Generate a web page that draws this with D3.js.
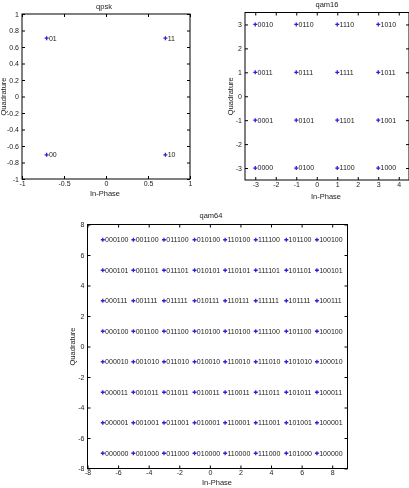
<!DOCTYPE html>
<html>
<head>
<meta charset="utf-8">
<script src="https://cdn.jsdelivr.net/npm/d3@7"></script>
<style>
  body { margin: 0; background: #fff; }
  svg { display: block; font-family: "Liberation Sans", Arial, sans-serif; will-change: transform; }
</style>
</head>
<body>
<svg id="chart" width="409" height="488"></svg>
<script>
//// data
var qpskI = [-0.7071, 0.7071, -0.7071, 0.7071];
var qpskQ = [0.7071, 0.7071, -0.7071, -0.7071];
var qpskLabels = ["01", "11", "00", "10"];

var qam16Levels = [-3, -1, 1, 3];
var qam16Rows = [3, 1, -1, -3];
var qam16Labels = [
  ["0010", "0110", "1110", "1010"],
  ["0011", "0111", "1111", "1011"],
  ["0001", "0101", "1101", "1001"],
  ["0000", "0100", "1100", "1000"]
];

var qam64Levels = [-7, -5, -3, -1, 1, 3, 5, 7];
var qam64Rows = [7, 5, 3, 1, -1, -3, -5, -7];
var qam64Labels = [
  ["000100", "001100", "011100", "010100", "110100", "111100", "101100", "100100"],
  ["000101", "001101", "011101", "010101", "110101", "111101", "101101", "100101"],
  ["000111", "001111", "011111", "010111", "110111", "111111", "101111", "100111"],
  ["000100", "001100", "011100", "010100", "110100", "111100", "101100", "100100"],
  ["000010", "001010", "011010", "010010", "110010", "111010", "101010", "100010"],
  ["000011", "001011", "011011", "010011", "110011", "111011", "101011", "100011"],
  ["000001", "001001", "011001", "010001", "110001", "111001", "101001", "100001"],
  ["000000", "001000", "011000", "010000", "110000", "111000", "101000", "100000"]
];

var qpskXTicks = [-1, -0.5, 0, 0.5, 1];
var qpskYTicks = [-1, -0.8, -0.6, -0.4, -0.2, 0, 0.2, 0.4, 0.6, 0.8, 1];
var qam16XTicks = [-3, -2, -1, 0, 1, 2, 3, 4];
var qam16YTicks = [-3, -2, -1, 0, 1, 2, 3];
var qam64Ticks = [-8, -6, -4, -2, 0, 2, 4, 6, 8];

// flatten grid data into points
function gridPoints(cols, rows, labels) {
  var pts = [];
  rows.forEach(function(q, r) {
    cols.forEach(function(i, c) {
      pts.push({i: i, q: q, label: labels[r][c]});
    });
  });
  return pts;
}

var svg = d3.select("svg#chart");
var fmt = function(d) { return String(+d.toFixed(2)); };

function drawPanel(p) {
  var x = d3.scaleLinear().domain(p.xDomain).range([p.left, p.right]);
  var y = d3.scaleLinear().domain(p.yDomain).range([p.bottom, p.top]);
  var g = svg.append("g");

  g.append("rect")
    .attr("x", p.left).attr("y", p.top)
    .attr("width", p.right - p.left).attr("height", p.bottom - p.top)
    .attr("fill", "#fff").attr("stroke", "#000").attr("stroke-width", 1);

  var bottom = g.append("g").attr("transform", "translate(0," + p.bottom + ")")
    .call(d3.axisBottom(x).tickValues(p.xTicks).tickFormat(fmt).tickSize(-3).tickPadding(2));
  var left = g.append("g").attr("transform", "translate(" + p.left + ",0)")
    .call(d3.axisLeft(y).tickValues(p.yTicks).tickFormat(fmt).tickSize(-3).tickPadding(3));
  var top = g.append("g").attr("transform", "translate(0," + p.top + ")")
    .call(d3.axisTop(x).tickValues(p.xTicks).tickFormat("").tickSize(-3));
  var right = g.append("g").attr("transform", "translate(" + p.right + ",0)")
    .call(d3.axisRight(y).tickValues(p.yTicks).tickFormat("").tickSize(-3));

  [bottom, left, top, right].forEach(function(a) {
    a.select(".domain").remove();
    a.selectAll("line").attr("stroke", "#000");
    a.selectAll("text").attr("font-size", 7).attr("fill", "#222")
      .attr("font-family", "Liberation Sans, Arial, sans-serif");
  });

  // constellation points
  var pt = g.selectAll("g.pt")
    .data(p.points)
    .enter().append("g")
    .attr("transform", function(d) { return "translate(" + x(d.i) + "," + y(d.q) + ")"; });
  pt.append("path")
    .attr("d", "M-2,0H2M0,-2V2")
    .attr("stroke", "#2a22d8").attr("stroke-width", 1.3);
  pt.append("text")
    .attr("x", 2.3).attr("dy", "0.35em")
    .attr("font-size", 7).attr("fill", "#222")
    .text(function(d) { return d.label; });

  g.append("text")
    .attr("x", p.titleX).attr("y", p.titleY)
    .attr("text-anchor", "middle").attr("font-size", 7.5).attr("fill", "#222")
    .text(p.title);
  g.append("text")
    .attr("x", p.xLabelX).attr("y", p.xLabelY)
    .attr("text-anchor", "middle").attr("font-size", 7.5).attr("fill", "#222")
    .text("In-Phase");
  g.append("text")
    .attr("transform", "translate(" + p.yLabelX + "," + ((p.top + p.bottom) / 2) + ") rotate(-90)")
    .attr("text-anchor", "middle").attr("font-size", 7.5).attr("fill", "#222")
    .text("Quadrature");
}

drawPanel({
  title: "qpsk", left: 22, right: 190, top: 14, bottom: 179,
  xDomain: [-1, 1], yDomain: [-1, 1], xTicks: qpskXTicks, yTicks: qpskYTicks,
  points: qpskI.map(function(v, k) { return {i: v, q: qpskQ[k], label: qpskLabels[k]}; }),
  titleX: 104, titleY: 9, xLabelX: 105, xLabelY: 196, yLabelX: 6
});

drawPanel({
  title: "qam16", left: 245, right: 409, top: 12.5, bottom: 180,
  xDomain: [-3.5, 4.5], yDomain: [-3.5, 3.5], xTicks: qam16XTicks, yTicks: qam16YTicks,
  points: gridPoints(qam16Levels, qam16Rows, qam16Labels),
  titleX: 327, titleY: 7, xLabelX: 326, xLabelY: 199, yLabelX: 233
});

drawPanel({
  title: "qam64", left: 87.5, right: 347.5, top: 224.5, bottom: 468.5,
  xDomain: [-8, 9], yDomain: [-8, 8], xTicks: qam64Ticks, yTicks: qam64Ticks,
  points: gridPoints(qam64Levels, qam64Rows, qam64Labels),
  titleX: 211, titleY: 218, xLabelX: 217, xLabelY: 485, yLabelX: 75
});
</script>
</body>
</html>
